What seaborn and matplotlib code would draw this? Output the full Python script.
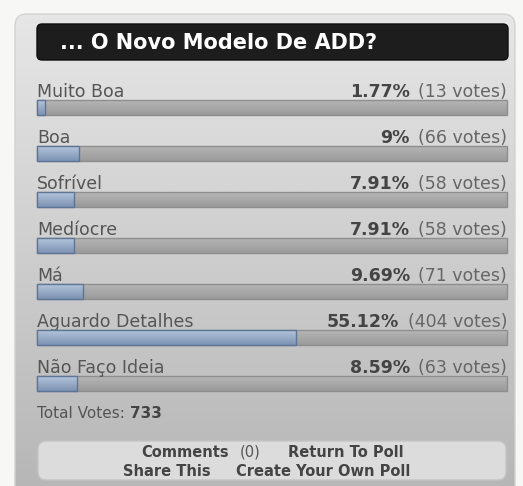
"""
Poll results widget: "... O Novo Modelo De ADD?"
Horizontal bars drawn with seaborn, widget chrome with matplotlib patches.
"""
import numpy as np
import matplotlib
matplotlib.use("Agg")
import matplotlib.pyplot as plt
from matplotlib.patches import FancyBboxPatch
from matplotlib.colors import LinearSegmentedColormap
import seaborn as sns

# ---------------------------------------------------------------
# Data
# ---------------------------------------------------------------
title = "... O Novo Modelo De ADD?"
options = ["Muito Boa", "Boa", "Sofrível", "Medíocre", "Má",
           "Aguardo Detalhes", "Não Faço Ideia"]
percents = [1.77, 9, 7.91, 7.91, 9.69, 55.12, 8.59]
votes = [13, 66, 58, 58, 71, 404, 63]
track = [100] * len(options)
total_votes = 733

W, H = 523, 486
sns.set_theme(style="white")
plt.rcParams["font.family"] = ["DejaVu Sans"]

fig = plt.figure(figsize=(W / 100, H / 100), dpi=100)
fig.patch.set_facecolor("#f7f7f5")


def gradient_fill(ax, patch, top, bottom, extent, z):
    cmap = LinearSegmentedColormap.from_list("g", [top, bottom])
    grad = np.linspace(0, 1, 64).reshape(-1, 1)
    im = ax.imshow(grad, cmap=cmap, extent=extent, aspect="auto",
                   origin="upper", interpolation="bicubic", zorder=z)
    im.set_clip_path(patch)
    return im


# ---------------------------------------------------------------
# Widget chrome (pixel coordinates)
# ---------------------------------------------------------------
bg = fig.add_axes([0, 0, 1, 1])
bg.set_xlim(0, W)
bg.set_ylim(H, 0)
bg.set_axis_off()

panel = FancyBboxPatch((15, 14), 500, 500, boxstyle="round,pad=0,rounding_size=12",
                       facecolor="none", edgecolor="#d2d2d2", lw=1, zorder=2)
bg.add_patch(panel)
gradient_fill(bg, panel, "#e6e6e6", "#b4b4b4", (15, 515, 514, 14), 1)

head = FancyBboxPatch((37, 24), 471, 36, boxstyle="round,pad=0,rounding_size=5",
                      facecolor="#1d1d1d", edgecolor="#0c0c0c", lw=1, zorder=3)
bg.add_patch(head)
bg.text(60, 43, title, color="white", fontsize=15, fontweight="bold",
        va="center", ha="left", zorder=4)

tv = bg.text(37, 418, "Total Votes: ", color="#555555", fontsize=11,
             va="baseline", ha="left")
bg.annotate(str(total_votes), xy=(1, 0), xycoords=tv, va="bottom", ha="left",
            color="#444444", fontsize=11, fontweight="bold")

foot = FancyBboxPatch((38, 441), 468, 39, boxstyle="round,pad=0,rounding_size=8",
                      facecolor="#dcdcdc", edgecolor="#c4c4c4", lw=1, zorder=3)
bg.add_patch(foot)
link = dict(color="#444444", fontsize=10.5, fontweight="bold", va="center", zorder=4)
bg.text(229, 452, "Comments", ha="right", **link)
bg.text(250, 452, "(0)", ha="center", color="#555555", fontsize=10.5,
        va="center", zorder=4)
bg.text(288, 452, "Return To Poll", ha="left", **link)
bg.text(211, 471, "Share This", ha="right", **link)
bg.text(236, 471, "Create Your Own Poll", ha="left", **link)

# ---------------------------------------------------------------
# Bars
# ---------------------------------------------------------------
ax = fig.add_axes([0, 0, 1, 1])
ax.set_axis_off()

sns.barplot(x=track, y=options, orient="h", color="#a8a8a8", width=0.326,
            errorbar=None, ax=ax)
n_track = len(ax.patches)
sns.barplot(x=percents, y=options, orient="h", color="#98abc6", width=0.326,
            errorbar=None, ax=ax)

for k, p in enumerate(ax.patches):
    x0, y0, w, h = p.get_x(), p.get_y(), p.get_width(), p.get_height()
    if k < n_track:
        p.set_edgecolor("#8e8e8e")
        p.set_zorder(2)
        gradient_fill(ax, p, "#b6b6b6", "#9a9a9a", (x0, x0 + w, y0 + h, y0), 1.9)
    else:
        p.set_edgecolor("#5f7596")
        p.set_zorder(4)
        gradient_fill(ax, p, "#b4c5dc", "#7d93b3", (x0, x0 + w, y0 + h, y0), 3.9)
    p.set_linewidth(1)
    p.set_facecolor("none")

for i, (name, pct, v) in enumerate(zip(options, percents, votes)):
    ax.text(0, i - 0.23, name, color="#555555", fontsize=12.5,
            ha="left", va="baseline")
    tvotes = ax.text(100, i - 0.23, f"({v} votes)", color="#666666",
                     fontsize=12.5, ha="right", va="baseline")
    ax.annotate(f"{pct:g}%", xy=(0, 0), xycoords=tvotes, xytext=(-6, 0),
                textcoords="offset points", ha="right", va="bottom",
                color="#444444", fontsize=12.5, fontweight="bold")

# map data onto the widget: track spans px 37..507, rows every 46 px from 107.5
ax.set_xlim(-37 / 4.7, (W - 37) / 4.7)
ax.set_ylim((H - 107.5) / 46, -107.5 / 46)

fig.savefig("out.png", dpi=100, facecolor=fig.get_facecolor())
